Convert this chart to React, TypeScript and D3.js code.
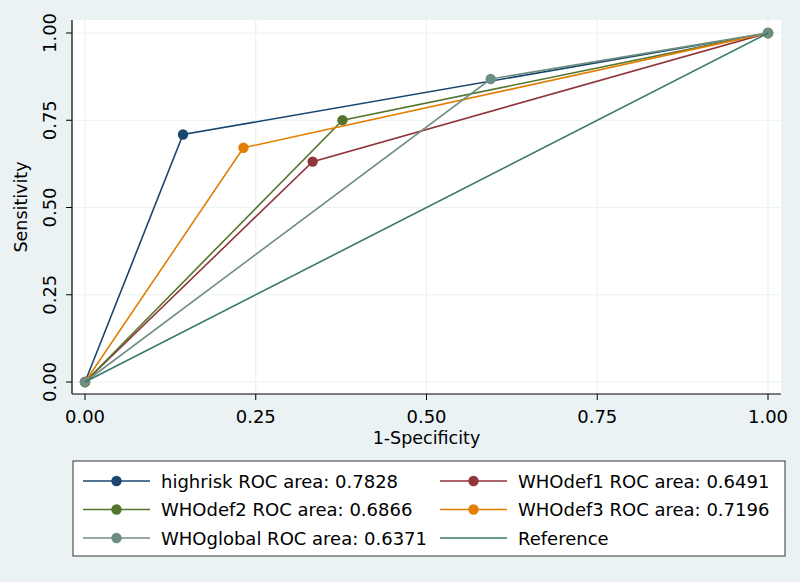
import React from 'react';
import * as d3 from 'd3';

// ROC points: (0,0) -> cut point -> (1,1)
const seriesNames = ['highrisk', 'WHOdef1', 'WHOdef2', 'WHOdef3', 'WHOglobal'];
const rocAreas = ['0.7828', '0.6491', '0.6866', '0.7196', '0.6371'];
const specComplement = [
  [0, 0.1435, 1],
  [0, 0.3333, 1],
  [0, 0.377, 1],
  [0, 0.232, 1],
  [0, 0.594, 1],
];
const sensitivity = [
  [0, 0.7091, 1],
  [0, 0.6315, 1],
  [0, 0.7502, 1],
  [0, 0.6712, 1],
  [0, 0.8682, 1],
];
const referenceX = [0, 1];
const referenceY = [0, 1];
const tickValues = [0, 0.25, 0.5, 0.75, 1];

const colors = ['#1a476f', '#90353b', '#55752f', '#e37e00', '#6e8e84'];
const refColor = '#36786a';
const bg = '#eaf2f3';
const font = '"DejaVu Sans", Verdana, sans-serif';

const App: React.FC = () => {
  const width = 800;
  const height = 582;
  const plot = { left: 72, right: 781, top: 20, bottom: 394 };

  const x = d3.scaleLinear().domain([0, 1]).range([85, 768]);
  const y = d3.scaleLinear().domain([0, 1]).range([382, 33]);

  const line = d3
    .line<[number, number]>()
    .x(d => x(d[0]))
    .y(d => y(d[1]));

  const pts = (i: number): [number, number][] =>
    specComplement[i].map((v, j) => [v, sensitivity[i][j]]);

  const legendItems = [
    ...seriesNames.map((n, i) => ({ label: `${n} ROC area: ${rocAreas[i]}`, color: colors[i], marker: true })),
    { label: 'Reference', color: refColor, marker: false },
  ];

  return (
    <svg
      width={width}
      height={height}
      style={{ position: 'absolute', left: 0, top: 0 }}
      fontFamily={font}
    >
      <rect width={width} height={height} fill={bg} />
      <rect
        x={plot.left}
        y={plot.top}
        width={plot.right - plot.left}
        height={plot.bottom - plot.top}
        fill="#fff"
      />

      {/* grid */}
      {tickValues.map(t => (
        <g key={'g' + t}>
          <line x1={plot.left} x2={plot.right} y1={y(t)} y2={y(t)} stroke={bg} strokeWidth={1.2} />
          <line x1={x(t)} x2={x(t)} y1={plot.top} y2={plot.bottom} stroke={bg} strokeWidth={1.2} />
        </g>
      ))}

      {/* series */}
      {seriesNames.map((n, i) => (
        <g key={n}>
          <path d={line(pts(i)) || ''} fill="none" stroke={colors[i]} strokeWidth={1.6} />
          {pts(i).map((p, j) => (
            <circle key={j} cx={x(p[0])} cy={y(p[1])} r={5.2} fill={colors[i]} />
          ))}
        </g>
      ))}
      <path
        d={line(referenceX.map((v, j) => [v, referenceY[j]] as [number, number])) || ''}
        fill="none"
        stroke={refColor}
        strokeWidth={1.6}
      />

      {/* axes */}
      <line x1={plot.left} x2={plot.left} y1={plot.top} y2={plot.bottom} stroke="#000" strokeWidth={1.2} />
      <line x1={plot.left} x2={plot.right} y1={plot.bottom} y2={plot.bottom} stroke="#000" strokeWidth={1.2} />
      {tickValues.map(t => (
        <g key={'t' + t}>
          <line x1={plot.left - 6} x2={plot.left} y1={y(t)} y2={y(t)} stroke="#000" strokeWidth={1} />
          <text
            transform={`translate(55.5,${y(t)}) rotate(-90)`}
            textAnchor="middle"
            fontSize={18}
            fill="#000"
          >
            {d3.format('.2f')(t)}
          </text>
          <line x1={x(t)} x2={x(t)} y1={plot.bottom} y2={plot.bottom + 6} stroke="#000" strokeWidth={1} />
          <text x={x(t)} y={423} textAnchor="middle" fontSize={18} fill="#000">
            {d3.format('.2f')(t)}
          </text>
        </g>
      ))}
      <text
        transform={`translate(27,${(plot.top + plot.bottom) / 2}) rotate(-90)`}
        textAnchor="middle"
        fontSize={17.5}
        fill="#000"
      >
        Sensitivity
      </text>
      <text x={(plot.left + plot.right) / 2} y={444} textAnchor="middle" fontSize={17.5} fill="#000">
        1-Specificity
      </text>

      {/* legend */}
      <rect x={73} y={461} width={712} height={95} fill="#fff" stroke="#333" strokeWidth={1} />
      {legendItems.map((d, i) => {
        const col = i % 2;
        const row = Math.floor(i / 2);
        const lx = col === 0 ? 83 : 440;
        const ly = 481 + row * 28.5;
        return (
          <g key={d.label}>
            <line x1={lx} x2={lx + 67} y1={ly} y2={ly} stroke={d.color} strokeWidth={1.6} />
            {d.marker && <circle cx={lx + 33.5} cy={ly} r={5.2} fill={d.color} />}
            <text x={lx + 78} y={ly + 6.5} fontSize={18} fill="#000">
              {d.label}
            </text>
          </g>
        );
      })}
    </svg>
  );
};

export default App;
